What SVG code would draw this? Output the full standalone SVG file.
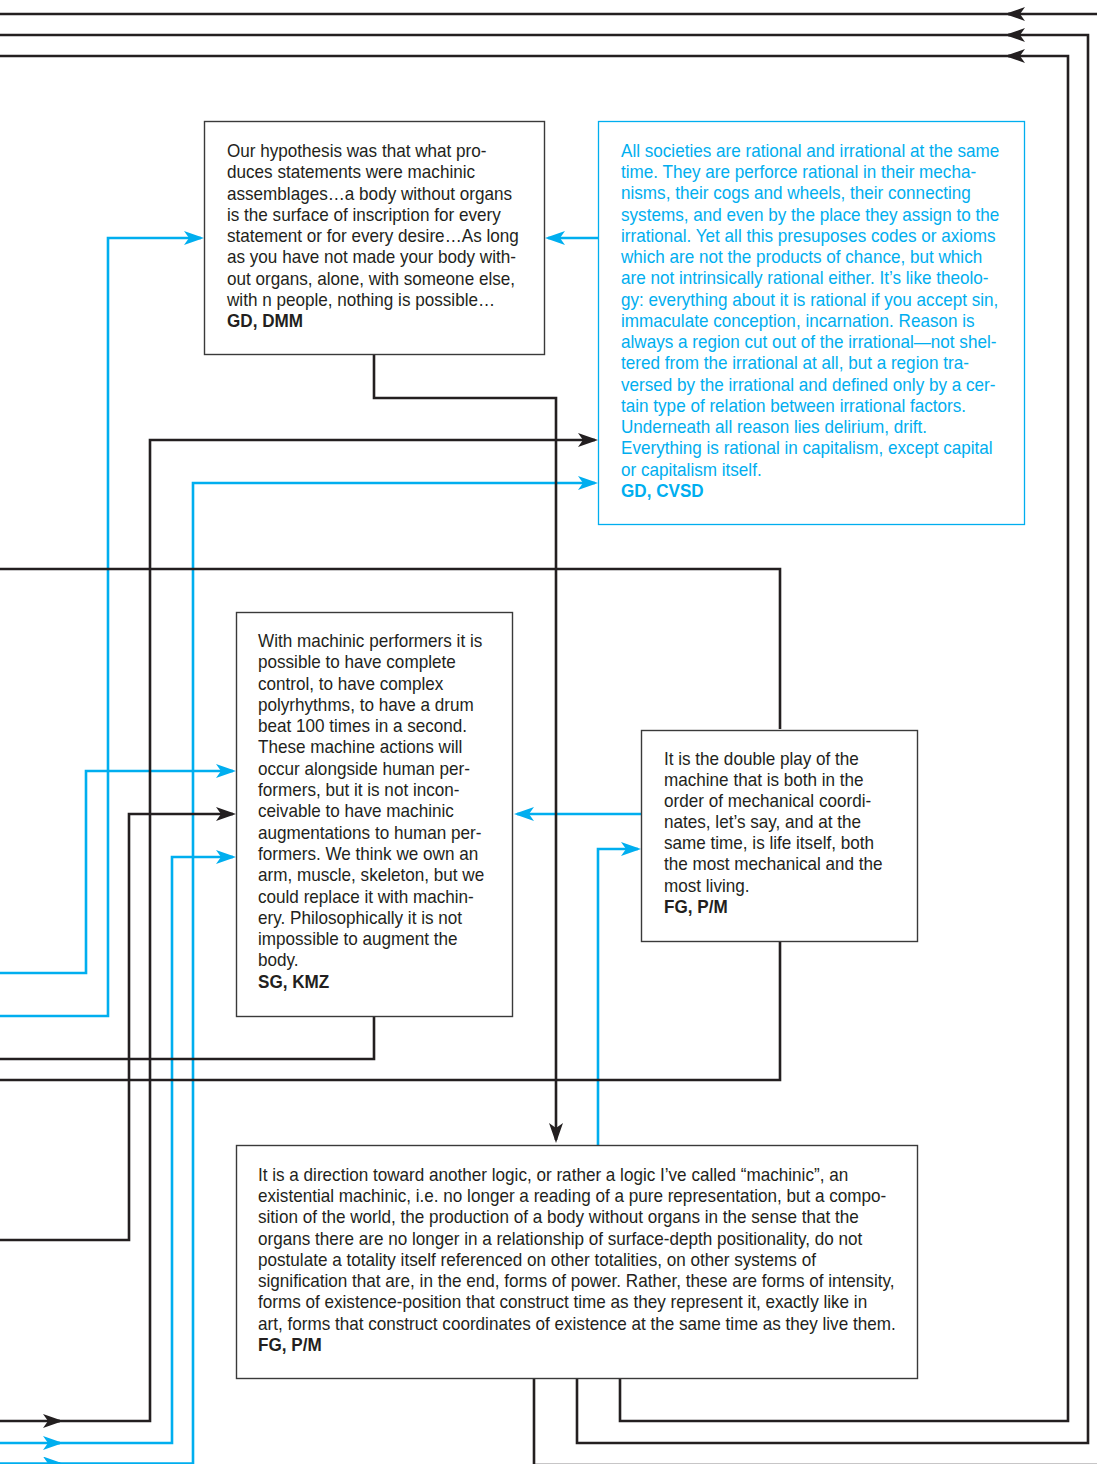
<svg xmlns="http://www.w3.org/2000/svg" width="1097" height="1464" viewBox="0 0 1097 1464">
<style>
.k{fill:none;stroke:#231f20;stroke-width:2.6}
.b{fill:none;stroke:#00aeef;stroke-width:2.6}
.box{fill:#fff;stroke:#3a3a3a;stroke-width:1.4}
.bbox{fill:#fff;stroke:#00aeef;stroke-width:1.3}
text{font-family:"Liberation Sans Narrow","Liberation Sans",Arial,sans-serif;font-size:18.3px;fill:#231f20}
.bt{fill:#00aeef}
.bold{font-weight:bold}
</style>
<defs>
<marker id="ak" viewBox="0 0 20 14" refX="17" refY="7" markerWidth="20" markerHeight="14" markerUnits="userSpaceOnUse" orient="auto">
<path d="M20,7 L0,0 L5,7 L0,14 Z" fill="#231f20"/>
</marker>
<marker id="ab" viewBox="0 0 20 14" refX="17" refY="7" markerWidth="20" markerHeight="14" markerUnits="userSpaceOnUse" orient="auto">
<path d="M20,7 L0,0 L5,7 L0,14 Z" fill="#00aeef"/>
</marker>
</defs>
<rect width="1097" height="1464" fill="#fff"/>
<g id="connectors">
<path class="b" d="M0,1443 H60" marker-end="url(#ab)"/>
<path class="b" d="M58,1443 H172 V857 H233" marker-end="url(#ab)"/>
<path class="b" d="M0,1463.5 H60" marker-end="url(#ab)"/>
<path class="b" d="M58,1463.5 H193 V483 H595" marker-end="url(#ab)"/>
<path class="b" d="M0,973 H86 V771 H233" marker-end="url(#ab)"/>
<path class="b" d="M0,1016 H108 V238 H201" marker-end="url(#ab)"/>
<path class="b" d="M641,814 H517" marker-end="url(#ab)"/>
<path class="b" d="M598,1145 V849 H638" marker-end="url(#ab)"/>
<path class="b" d="M598,238 H548" marker-end="url(#ab)"/>
<path class="k" d="M1097,14 H1008" marker-end="url(#ak)"/>
<path class="k" d="M1010,14 H0"/>
<path class="k" d="M577,1379 V1443 H1088 V35 H1008" marker-end="url(#ak)"/>
<path class="k" d="M1010,35 H0"/>
<path class="k" d="M620,1379 V1421 H1068 V56 H1008" marker-end="url(#ak)"/>
<path class="k" d="M1010,56 H0"/>
<path class="k" d="M534,1379 V1465 H1097"/>
<path class="k" d="M0,1421 H60" marker-end="url(#ak)"/>
<path class="k" d="M58,1421 H150 V440 H595" marker-end="url(#ak)"/>
<path class="k" d="M374,1017 V1059 H0"/>
<path class="k" d="M780,729 V569 H0"/>
<path class="k" d="M780,942 V1080 H0"/>
<path class="k" d="M0,1240 H129 V814 H233" marker-end="url(#ak)"/>
<path class="k" d="M374,355 V398 H556 V1140" marker-end="url(#ak)"/>
</g>
<g id="node-gd-dmm">
<rect class="box" x="204.5" y="121.5" width="340" height="233"/>
<g transform="matrix(0.935,0,0,1,227,0)">
<text x="0" y="157">Our hypothesis was that what pro-</text>
<text x="0" y="178.3">duces statements were machinic</text>
<text x="0" y="199.6">assemblages…a body without organs</text>
<text x="0" y="220.9">is the surface of inscription for every</text>
<text x="0" y="242.2">statement or for every desire…As long</text>
<text x="0" y="263.5">as you have not made your body with-</text>
<text x="0" y="284.8">out organs, alone, with someone else,</text>
<text x="0" y="306.1">with n people, nothing is possible…</text>
<text class="bold" x="0" y="327.4">GD, DMM</text>
</g>
</g>
<g id="node-gd-cvsd">
<rect class="bbox" x="598.5" y="121.5" width="426" height="403"/>
<g transform="matrix(0.935,0,0,1,621,0)">
<text class="bt" x="0" y="157">All societies are rational and irrational at the same</text>
<text class="bt" x="0" y="178.25">time. They are perforce rational in their mecha-</text>
<text class="bt" x="0" y="199.5">nisms, their cogs and wheels, their connecting</text>
<text class="bt" x="0" y="220.75">systems, and even by the place they assign to the</text>
<text class="bt" x="0" y="242">irrational. Yet all this presuposes codes or axioms</text>
<text class="bt" x="0" y="263.25">which are not the products of chance, but which</text>
<text class="bt" x="0" y="284.5">are not intrinsically rational either. It’s like theolo-</text>
<text class="bt" x="0" y="305.75">gy: everything about it is rational if you accept sin,</text>
<text class="bt" x="0" y="327">immaculate conception, incarnation. Reason is</text>
<text class="bt" x="0" y="348.25">always a region cut out of the irrational—not shel-</text>
<text class="bt" x="0" y="369.5">tered from the irrational at all, but a region tra-</text>
<text class="bt" x="0" y="390.75">versed by the irrational and defined only by a cer-</text>
<text class="bt" x="0" y="412">tain type of relation between irrational factors.</text>
<text class="bt" x="0" y="433.25">Underneath all reason lies delirium, drift.</text>
<text class="bt" x="0" y="454.5">Everything is rational in capitalism, except capital</text>
<text class="bt" x="0" y="475.75">or capitalism itself.</text>
<text class="bt bold" x="0" y="497">GD, CVSD</text>
</g>
</g>
<g id="node-sg-kmz">
<rect class="box" x="236.5" y="612.5" width="276" height="404"/>
<g transform="matrix(0.935,0,0,1,258,0)">
<text x="0" y="647">With machinic performers it is</text>
<text x="0" y="668.3">possible to have complete</text>
<text x="0" y="689.6">control, to have complex</text>
<text x="0" y="710.9">polyrhythms, to have a drum</text>
<text x="0" y="732.2">beat 100 times in a second.</text>
<text x="0" y="753.5">These machine actions will</text>
<text x="0" y="774.8">occur alongside human per-</text>
<text x="0" y="796.1">formers, but it is not incon-</text>
<text x="0" y="817.4">ceivable to have machinic</text>
<text x="0" y="838.7">augmentations to human per-</text>
<text x="0" y="860">formers. We think we own an</text>
<text x="0" y="881.3">arm, muscle, skeleton, but we</text>
<text x="0" y="902.6">could replace it with machin-</text>
<text x="0" y="923.9">ery. Philosophically it is not</text>
<text x="0" y="945.2">impossible to augment the</text>
<text x="0" y="966.5">body.</text>
<text class="bold" x="0" y="987.8">SG, KMZ</text>
</g>
</g>
<g id="node-fg-pm-1">
<rect class="box" x="641.5" y="730.5" width="276" height="211"/>
<g transform="matrix(0.935,0,0,1,664,0)">
<text x="0" y="765">It is the double play of the</text>
<text x="0" y="786.1">machine that is both in the</text>
<text x="0" y="807.2">order of mechanical coordi-</text>
<text x="0" y="828.3">nates, let’s say, and at the</text>
<text x="0" y="849.4">same time, is life itself, both</text>
<text x="0" y="870.5">the most mechanical and the</text>
<text x="0" y="891.6">most living.</text>
<text class="bold" x="0" y="912.7">FG, P/M</text>
</g>
</g>
<g id="node-fg-pm-2">
<rect class="box" x="236.5" y="1145.5" width="681" height="233"/>
<g transform="matrix(0.935,0,0,1,258,0)">
<text x="0" y="1181">It is a direction toward another logic, or rather a logic I’ve called “machinic”, an</text>
<text x="0" y="1202.25">existential machinic, i.e. no longer a reading of a pure representation, but a compo-</text>
<text x="0" y="1223.5">sition of the world, the production of a body without organs in the sense that the</text>
<text x="0" y="1244.75">organs there are no longer in a relationship of surface-depth positionality, do not</text>
<text x="0" y="1266">postulate a totality itself referenced on other totalities, on other systems of</text>
<text x="0" y="1287.25">signification that are, in the end, forms of power. Rather, these are forms of intensity,</text>
<text x="0" y="1308.5">forms of existence-position that construct time as they represent it, exactly like in</text>
<text x="0" y="1329.75">art, forms that construct coordinates of existence at the same time as they live them.</text>
<text class="bold" x="0" y="1351">FG, P/M</text>
</g>
</g>
</svg>
